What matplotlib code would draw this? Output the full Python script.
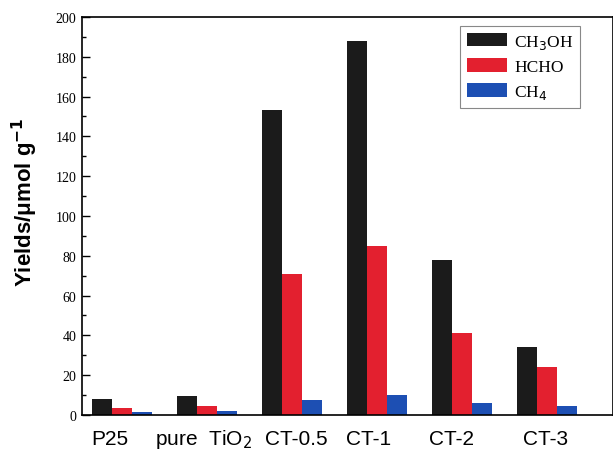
import matplotlib
matplotlib.use("Agg")
import matplotlib.pyplot as plt
import matplotlib.transforms as mtransforms
import numpy as np
from matplotlib.ticker import MultipleLocator

categories = ["P25", "pure  TiO$_2$", "CT-0.5", "CT-1", "CT-2", "CT-3"]
series_names = ["CH$_3$OH", "HCHO", "CH$_4$"]
ch3oh = [8, 9.5, 153, 188, 78, 34]
hcho = [3.5, 4.5, 71, 85, 41, 24]
ch4 = [1.5, 2, 7.5, 10, 6, 4.5]
colors = ["#1b1b1b", "#e3202f", "#1d4fb3"]
label_shift_px = [-12, -4, 4, -9, -11, -1]

fig = plt.figure(figsize=(6.13, 4.56), dpi=100)
ax = fig.add_axes([0.134, 0.0877, 0.866, 0.873])

x = np.arange(len(categories))
w = 0.235
for k, (vals, name, c) in enumerate(zip([ch3oh, hcho, ch4], series_names, colors)):
    ax.bar(x + (k - 1) * w, vals, width=w, color=c, label=name, edgecolor="none")

ax.set_xlim(-0.47, 5.776)
ax.set_ylim(0, 200)
ax.yaxis.set_major_locator(MultipleLocator(20))
ax.yaxis.set_minor_locator(MultipleLocator(10))
ax.tick_params(axis="y", which="major", direction="in", length=6, width=1, labelsize=10, pad=4)
ax.tick_params(axis="y", which="minor", direction="in", length=3, width=1)
for lab in ax.get_yticklabels():
    lab.set_fontfamily("Liberation Serif")
ax.set_xticks(x)
ax.set_xticklabels(categories, fontfamily="Liberation Sans", fontsize=15, va="baseline")
ax.tick_params(axis="x", length=0, pad=21)
for lab, dx in zip(ax.get_xticklabels(), label_shift_px):
    lab.set_transform(lab.get_transform() + mtransforms.ScaledTranslation(dx / 100, 0, fig.dpi_scale_trans))
for s in ax.spines.values():
    s.set_linewidth(1.2)

fig.text(25 / 613, 1 - 202 / 456, "Yields/μmol g$^{\\mathbf{-1}}$", fontfamily="Liberation Sans",
         fontweight="bold", fontsize=16, rotation=90, ha="center", va="center")

leg = ax.legend(loc="upper right", bbox_to_anchor=(0.938, 0.978), borderaxespad=0,
                prop={"family": "Liberation Serif", "size": 12.5},
                handlelength=2.3, handleheight=0.8, fancybox=False, edgecolor="#888888", framealpha=1,
                borderpad=0.4, labelspacing=0.45, handletextpad=0.4)
leg.get_frame().set_linewidth(0.8)

fig.savefig("out.png", dpi=100)
